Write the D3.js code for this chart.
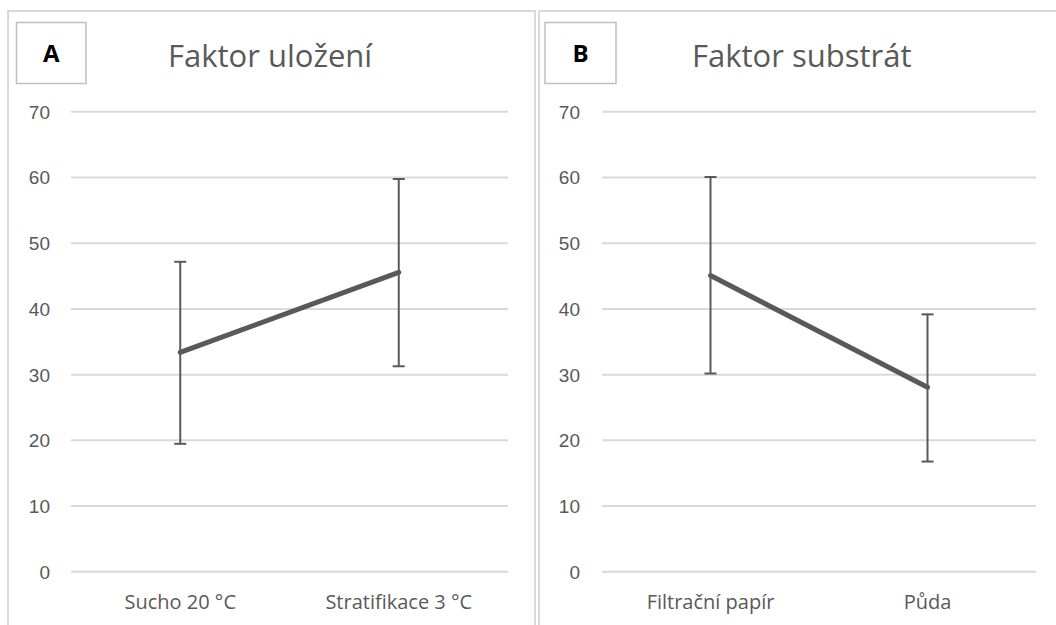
<!DOCTYPE html>
<html><head><meta charset="utf-8">
<script src="https://cdn.jsdelivr.net/npm/d3@7"></script>
<style>body{margin:0;background:#fff}svg{display:block}</style>
</head><body><svg id="c" width="1056" height="625"></svg>
<script>
const yTicks = [0,10,20,30,40,50,60,70];
const catsA = ["Sucho 20 °C","Stratifikace 3 °C"];
const meanA = [33.3,45.5];
const upA = [47.1,59.7];
const loA = [19.4,31.2];
const catsB = ["Filtrační papír","Půda"];
const meanB = [45.0,28.0];
const upB = [60.0,39.1];
const loB = [30.1,16.7];
const titles = ["Faktor uložení","Faktor substrát"];
const letters = ["A","B"];

const svg = d3.select("#c");
const grey = "#595959";
const panels = [
  {px:8, pw:527, gx0:71, gx1:508, lab:50, box:[16.5,22.5,69.5,61], tx:168, cats:catsA, m:meanA, u:upA, l:loA},
  {px:539, pw:530, gx0:602, gx1:1036, lab:580, box:[545,22.5,71,61], tx:692, cats:catsB, m:meanB, u:upB, l:loB}
];
const y = d3.scaleLinear().domain([0,70]).range([571.3,111.3]);

panels.forEach((p,i)=>{
  const g = svg.append("g");
  g.append("rect").attr("x",p.px).attr("y",11).attr("width",p.pw).attr("height",640)
    .attr("fill","#fff").attr("stroke","#d9d9d9").attr("stroke-width",2);
  g.append("rect").attr("x",p.box[0]).attr("y",p.box[1]).attr("width",p.box[2]).attr("height",p.box[3])
    .attr("fill","#fff").attr("stroke","#bfbfbf").attr("stroke-width",1.5);
  g.append("text").attr("x",p.box[0]+p.box[2]/2).attr("y",p.box[1]+p.box[3]/2+8.5)
    .attr("text-anchor","middle").attr("font-family","'Open Sans', sans-serif").attr("font-weight","bold")
    .attr("font-size",24).attr("fill","#000").text(letters[i]);
  g.append("text").attr("x",p.tx).attr("y",67).attr("font-family","'Open Sans', sans-serif")
    .attr("font-size",31).attr("fill",grey).text(titles[i]);

  const x = d3.scaleBand().domain(p.cats).range([p.gx0,p.gx1]).padding(0);
  const ya = d3.axisLeft(y).tickValues(yTicks).tickSize(-(p.gx1-p.gx0)).tickFormat(d3.format("d"));
  const ag = g.append("g").attr("transform",`translate(${p.gx0},0)`).call(ya);
  ag.select(".domain").remove();
  ag.selectAll(".tick line").attr("stroke","#d9d9d9").attr("stroke-width",2);
  ag.selectAll(".tick text").attr("x",p.lab-p.gx0).attr("dy","0.36em")
    .attr("font-family","'Liberation Sans', Arial, sans-serif").attr("font-size",19).attr("fill",grey);

  const xa = d3.axisBottom(x).tickSize(0);
  const xg = g.append("g").attr("transform",`translate(0,${y(0)})`).call(xa);
  xg.select(".domain").remove();
  xg.selectAll(".tick text").attr("y",38).attr("dy",0)
    .attr("font-family","'Open Sans', sans-serif").attr("font-size",20).attr("fill",grey);

  const cx = d => x(d)+x.bandwidth()/2;
  const data = p.cats.map((c,j)=>({c, m:p.m[j], u:p.u[j], l:p.l[j]}));
  const eb = g.append("g").attr("stroke",grey).attr("stroke-width",2);
  eb.selectAll("line.v").data(data).join("line").attr("class","v")
    .attr("x1",d=>cx(d.c)).attr("x2",d=>cx(d.c)).attr("y1",d=>y(d.u)).attr("y2",d=>y(d.l));
  eb.selectAll("line.t").data(data).join("line").attr("class","t")
    .attr("x1",d=>cx(d.c)-6).attr("x2",d=>cx(d.c)+6).attr("y1",d=>y(d.u)).attr("y2",d=>y(d.u));
  eb.selectAll("line.b").data(data).join("line").attr("class","b")
    .attr("x1",d=>cx(d.c)-6).attr("x2",d=>cx(d.c)+6).attr("y1",d=>y(d.l)).attr("y2",d=>y(d.l));
  g.append("path").datum(data).attr("fill","none").attr("stroke",grey).attr("stroke-width",5)
    .attr("stroke-linecap","round")
    .attr("d",d3.line().x(d=>cx(d.c)).y(d=>y(d.m)));
});
</script></body></html>
